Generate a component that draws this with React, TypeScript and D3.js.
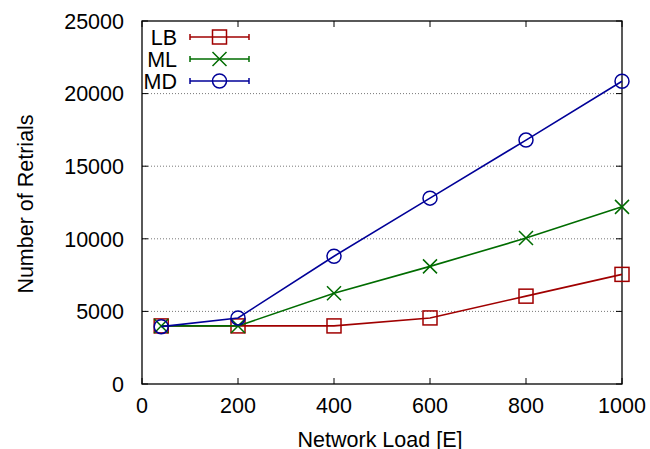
import React from "react";
import * as d3 from "d3";

const loads = [40, 200, 400, 600, 800, 1000];
const lbValues = [4000, 4000, 4000, 4550, 6050, 7550];
const mlValues = [4000, 4000, 6250, 8100, 10050, 12200];
const mdValues = [3950, 4550, 8800, 12800, 16800, 20850];
const xTicks = [0, 200, 400, 600, 800, 1000];
const yTicks = [0, 5000, 10000, 15000, 20000, 25000];

type Marker = "square" | "cross" | "circle";
const series: { name: string; values: number[]; color: string; marker: Marker }[] = [
  { name: "LB", values: lbValues, color: "#a00000", marker: "square" },
  { name: "ML", values: mlValues, color: "#006c00", marker: "cross" },
  { name: "MD", values: mdValues, color: "#000098", marker: "circle" },
];

const W = 650;
const H = 449;
const M = { left: 142, right: 622, top: 21, bottom: 384 };
const FONT = "'Liberation Sans', Arial, Helvetica, sans-serif";
const FS = 21.5;

function MarkerShape({ kind, x, y, color }: { kind: Marker; x: number; y: number; color: string }) {
  const s = 7;
  if (kind === "square")
    return <rect x={x - s} y={y - s} width={2 * s} height={2 * s} fill="none" stroke={color} strokeWidth={1.5} />;
  if (kind === "circle") return <circle cx={x} cy={y} r={s} fill="none" stroke={color} strokeWidth={1.5} />;
  return (
    <path
      d={`M${x - s},${y - s}L${x + s},${y + s}M${x - s},${y + s}L${x + s},${y - s}`}
      stroke={color}
      strokeWidth={1.5}
      fill="none"
    />
  );
}

export default function App() {
  const x = d3.scaleLinear().domain([0, 1000]).range([M.left, M.right]);
  const y = d3.scaleLinear().domain([0, 25000]).range([M.bottom, M.top]);
  const line = d3
    .line<number>()
    .x((_, i) => x(loads[i]))
    .y((v) => y(v));
  const tickLen = 6;

  return (
    <svg width={W} height={H} style={{ position: "absolute", left: 0, top: 0 }} fontFamily={FONT}>
      <rect width={W} height={H} fill="#fff" />
      {/* horizontal dotted grid */}
      {yTicks
        .filter((t) => t > 0 && t < 25000)
        .map((t) => (
          <line
            key={"g" + t}
            x1={M.left}
            x2={M.right}
            y1={y(t)}
            y2={y(t)}
            stroke="#555"
            strokeWidth={0.8}
            strokeDasharray="1,2"
          />
        ))}
      {/* ticks */}
      {yTicks.map((t) => (
        <g key={"yt" + t}>
          <line x1={M.left} x2={M.left + tickLen} y1={y(t)} y2={y(t)} stroke="#000" />
          <line x1={M.right} x2={M.right - tickLen} y1={y(t)} y2={y(t)} stroke="#000" />
          <text x={124} y={y(t)} dy="0.36em" textAnchor="end" fontSize={FS}>
            {t}
          </text>
        </g>
      ))}
      {xTicks.map((t) => (
        <g key={"xt" + t}>
          <line x1={x(t)} x2={x(t)} y1={M.bottom} y2={M.bottom - tickLen} stroke="#000" />
          <line x1={x(t)} x2={x(t)} y1={M.top} y2={M.top + tickLen} stroke="#000" />
          <text x={x(t)} y={413} textAnchor="middle" fontSize={FS}>
            {t}
          </text>
        </g>
      ))}
      {/* frame */}
      <rect
        x={M.left}
        y={M.top}
        width={M.right - M.left}
        height={M.bottom - M.top}
        fill="none"
        stroke="#000"
        strokeWidth={1.3}
      />
      {/* series */}
      {series.map((s) => (
        <g key={s.name}>
          <path d={line(s.values) ?? ""} fill="none" stroke={s.color} strokeWidth={1.6} />
          {s.values.map((v, i) => (
            <MarkerShape key={i} kind={s.marker} x={x(loads[i])} y={y(v)} color={s.color} />
          ))}
        </g>
      ))}
      {/* legend */}
      {series.map((s, i) => {
        const ly = 37 + i * 22;
        return (
          <g key={"lg" + s.name}>
            <text x={177} y={ly} dy="0.36em" textAnchor="end" fontSize={FS}>
              {s.name}
            </text>
            <line x1={190} x2={249} y1={ly} y2={ly} stroke={s.color} strokeWidth={1.5} />
            <line x1={190} x2={190} y1={ly - 3} y2={ly + 3} stroke={s.color} strokeWidth={1.5} />
            <line x1={249} x2={249} y1={ly - 3} y2={ly + 3} stroke={s.color} strokeWidth={1.5} />
            <MarkerShape kind={s.marker} x={219.5} y={ly} color={s.color} />
          </g>
        );
      })}
      {/* axis titles */}
      <text x={380} y={447} textAnchor="middle" fontSize={FS}>
        Network Load [E]
      </text>
      <text transform="translate(33,204) rotate(-90)" textAnchor="middle" fontSize={FS}>
        Number of Retrials
      </text>
    </svg>
  );
}
